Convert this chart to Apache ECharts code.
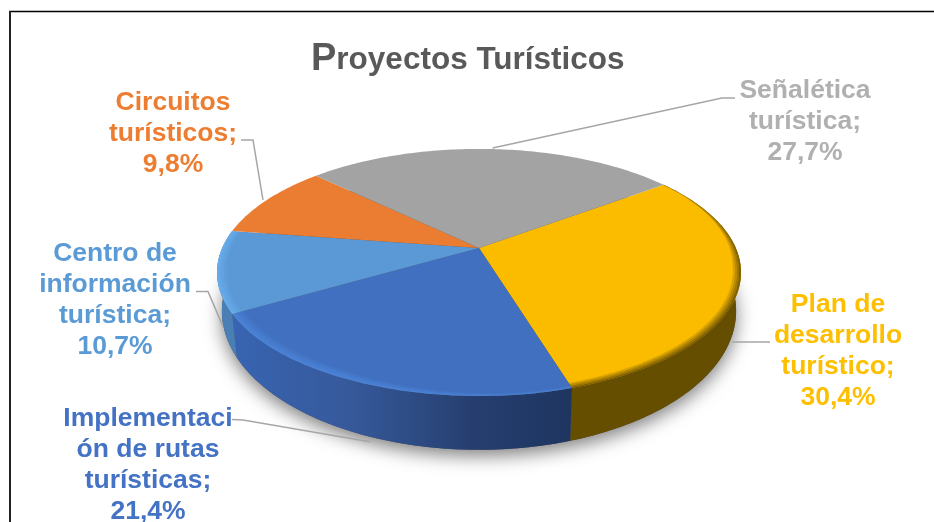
<!DOCTYPE html>
<html>
<head>
<meta charset="utf-8">
<style>html,body{margin:0;padding:0;background:#fff}#c{width:934px;height:522px}</style>
<script src="https://cdn.jsdelivr.net/npm/echarts@6/dist/echarts.min.js"></script>
</head>
<body>
<div id="c"></div>
<script>
// Data
const categories = ['Plan de\ndesarrollo\nturístico;', 'Implementaci\nón de rutas\nturísticas;', 'Centro de\ninformación\nturística;', 'Circuitos\nturísticos;', 'Señalética\nturística;'];
const values = [30.4, 21.4, 10.7, 9.8, 27.7];
const valueLabels = ['30,4%', '21,4%', '10,7%', '9,8%', '27,7%'];
const titleText = 'Proyectos Turísticos';

// Styles and layout
const topColors = ['#fbbc00', '#4170c0', '#5b98d6', '#eb7d32', '#a3a3a3'];
const labelColors = ['#fdbf00', '#4472c4', '#5b9bd5', '#ed7d31', '#b0b0b0'];
const bevelColors = ['#4a3800', '#4f8ce0', '#6cb4f2', null, null];
const labelCenters = [[838, 351], [148, 465], [115, 300], [173, 134], [805, 122]];
const leaderElbows = [[[770, 342]], [[232, 419.5], [243, 420]], [[196, 291.5], [208, 291.5]], [[241, 140], [253, 140]], [[735, 98], [722, 98]]];
const leaderNudge = [[-2, 14, 1], [4, 6, 1], [1, 17, 1], [-4, 0, 0], [0, -1, 0]];
const START = 53.5;
const TOP = {cx: 479, cy: 248, A: 256.8, B: 118.7, k: 0.198};
const BOT = {cx: 479, cy: 283.5, A: 252, B: 133.4, k: 0.198};

function project(p, deg, r) {
  const t = deg * Math.PI / 180, x = r * Math.sin(t), y = -r * Math.cos(t);
  const d = 1 - p.k * y;
  return [p.cx + p.A * x / d, p.cy + p.B * y / d];
}
// rf gives the radius at each angle
function arc(p, a, b, rf) {
  const pts = [], n = Math.max(2, Math.ceil(Math.abs(b - a)));
  for (let i = 0; i <= n; i++) {
    const d = a + (b - a) * i / n;
    pts.push(project(p, d, rf ? rf(d) : 1));
  }
  return pts;
}
const total = values.reduce((s, v) => s + v, 0);
function sliceRange(i) {
  let a = START;
  for (let j = 0; j < i; j++) a += values[j] / total * 360;
  return [a, a + values[i] / total * 360];
}
function sideFill(i) {
  if (i === 1) return new echarts.graphic.LinearGradient(0, 0, 1, 0, [
    {offset: 0, color: '#3864b2'}, {offset: 0.35, color: '#36599a'},
    {offset: 0.7, color: '#263f70'}, {offset: 1, color: '#1e3560'}]);
  if (i === 2) return '#4a7fb6';
  if (i === 0) return '#664e00';
  return '#777';
}
// width of the soft rim band, tapered along the slice
function bevelWidth(i, a, d) {
  if (i === 0) return 0.03 * Math.min(1, Math.max(0.15, (d - a) / 45));
  if (i === 1) return 0.04 * Math.min(1, Math.max(0.3, (d - a) / 45));
  return 0.035;
}
function renderSlice(params, api) {
  const i = params.dataIndex;
  const [a, b] = sliceRange(i);
  const children = [];
  if (i === 0) {
    children.push({type: 'polygon', z2: 0, shape: {points: arc(BOT, 0, 360)},
      style: {fill: '#555', shadowBlur: 18, shadowColor: 'rgba(0,0,0,0.5)', shadowOffsetY: 6}});
  }
  if (bevelColors[i]) {
    children.push({type: 'polygon', z2: 1,
      shape: {points: arc(TOP, a, b).concat(arc(BOT, b, a))},
      style: {fill: sideFill(i)}});
  }
  children.push({type: 'polygon', z2: 5, shape: {points: arc(TOP, a, b).concat([[TOP.cx, TOP.cy]])},
    style: {fill: topColors[i]}});
  if (bevelColors[i]) {
    const bands = 4;
    for (let s = 0; s < bands; s++) {
      const r0 = d => 1 - bevelWidth(i, a, d) * s / bands;
      const r1 = d => 1 - bevelWidth(i, a, d) * (s + 1) / bands;
      children.push({type: 'polygon', z2: 6,
        shape: {points: arc(TOP, a, b, r0).concat(arc(TOP, b, a, r1))},
        style: {fill: bevelColors[i], opacity: (i === 0 ? 0.7 : 0.7) - s * 0.17}});
    }
  }
  // leader line: starts on the rim at the slice's mid angle
  const n = leaderNudge[i], mid = (a + b) / 2;
  const rim = project(n[2] ? BOT : TOP, mid, 1);
  const end = [rim[0] + n[0], rim[1] + n[1]];
  children.push({type: 'polyline', z2: 8, shape: {points: leaderElbows[i].concat([end])},
    style: {fill: null, stroke: '#a6a6a6', lineWidth: 1.5}});
  // label
  children.push({type: 'text', z2: 9, style: {
    x: labelCenters[i][0], y: labelCenters[i][1],
    text: categories[i] + '\n' + valueLabels[i],
    align: 'center', verticalAlign: 'middle',
    font: 'bold 26.5px "Liberation Sans", Arial, sans-serif', lineHeight: 31,
    fill: labelColors[i]}});
  return {type: 'group', children: children};
}

const chart = echarts.init(document.getElementById('c'), null, {renderer: 'canvas'});
const titleFont = {fontFamily: '"Liberation Sans", Arial, sans-serif', fontWeight: 'bold', color: '#595959'};
chart.setOption({
  animation: false,
  backgroundColor: '#fff',
  title: {
    text: '{p|' + titleText[0] + '}{r|' + titleText.slice(1) + '}',
    left: 306, top: 36,
    textStyle: {rich: {
      p: Object.assign({fontSize: 38}, titleFont),
      r: Object.assign({fontSize: 31.5}, titleFont)
    }}
  },
  graphic: [
    {type: 'line', shape: {x1: 9, y1: 11.5, x2: 934, y2: 11.5}, style: {stroke: '#000', lineWidth: 1.5}},
    {type: 'line', shape: {x1: 10, y1: 11, x2: 10, y2: 522}, style: {stroke: '#222', lineWidth: 2}}
  ],
  series: [{
    type: 'custom',
    coordinateSystem: 'none',
    data: values.map((v, i) => ({name: categories[i], value: v})),
    renderItem: renderSlice
  }]
});
</script>
</body>
</html>
